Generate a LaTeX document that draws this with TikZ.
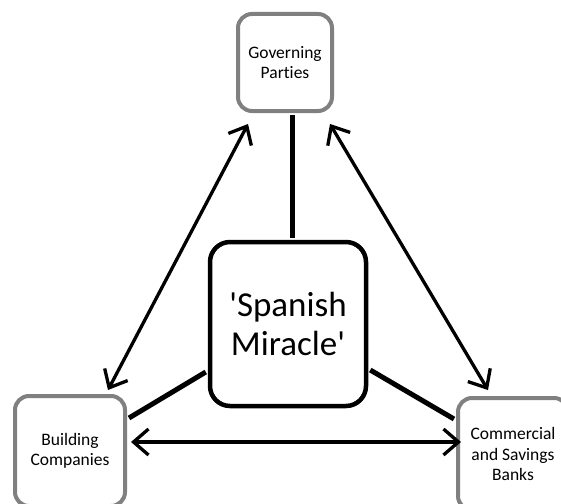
\documentclass[tikz,border=0pt]{standalone}
\usepackage{fontspec}
\setmainfont{Carlito}[Ligatures={TeXOff,NoCommon}]
\usetikzlibrary{arrows.meta}
\definecolor{boxgray}{RGB}{128,128,128}
\begin{document}
\begin{tikzpicture}[x=1pt,y=-1pt,
  sbox/.style={draw=boxgray, line width=4pt, rounded corners=14pt, fill=white, align=center,
    font=\fontsize{17.5}{20.5}\selectfont, inner sep=0pt},
  bigbox/.style={draw=black, line width=4.5pt, rounded corners=20pt, fill=white, align=center,
    font=\fontsize{35}{39}\selectfont, minimum width=156pt, minimum height=164pt, inner sep=0pt},
  link/.style={line width=5pt},
  barb/.tip={Straight Barb[length=15pt,width=26pt]},
  rel/.style={line width=3.3pt, barb-barb}
]
\useasboundingbox (0,0) rectangle (561,503);
% thick links (drawn first, nodes on top)
\path (285,62.5) coordinate (govc) (288,324) coordinate (mirc);
\node[sbox, minimum width=94pt, minimum height=97pt] (gov) at (govc) {Governing\\Parties};
\node[bigbox] (mir) at (mirc) {'Spanish\\Miracle'};
\node[sbox, minimum width=110pt, minimum height=110pt] (bld) at (70,451) {Building\\Companies};
\node[sbox, minimum width=110pt, minimum height=112pt] (com) at (513,454) {Commercial\\and Savings\\Banks};
\draw[link] ([shift={(7,2)}]gov.south) -- ([shift={(4,-2)}]mir.north);
\draw[link] ([shift={(-2,48)}]mir.west) -- ([shift={(2,-33)}]bld.east);
\draw[link] ([shift={(2,46)}]mir.east) -- ([shift={(-2,-35)}]com.west);
% relations
\draw[rel] ([shift={(12,11)}]gov.south west) -- ([shift={(-19,-4)}]bld.north east);
\draw[rel] ([shift={(-4,11)}]gov.south east) -- ([shift={(-25,-6)}]com.north);
\draw[rel] ([shift={(4,-9)}]bld.east) -- ([shift={(5,-12)}]com.west);
\end{tikzpicture}
\end{document}
